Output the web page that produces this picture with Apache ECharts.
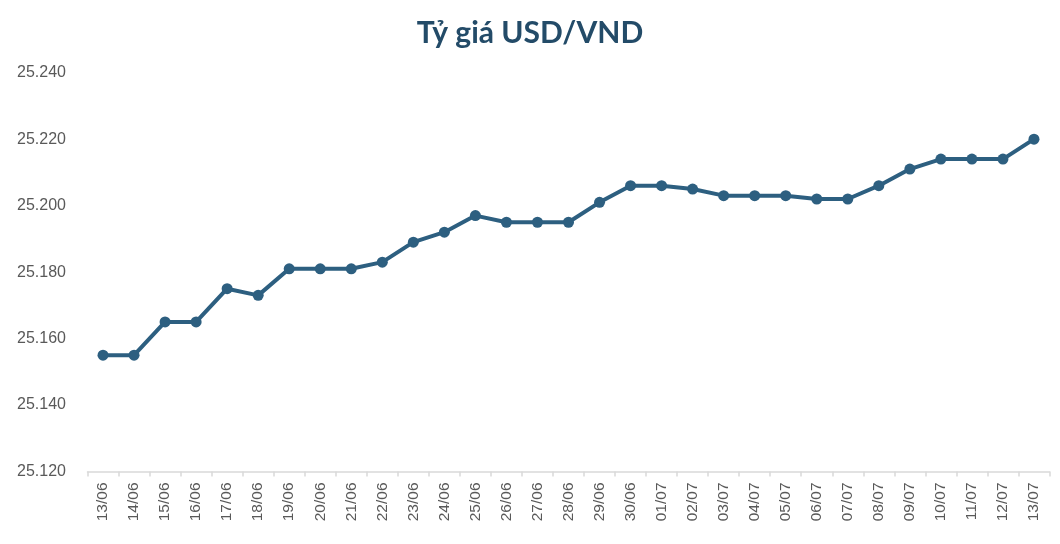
<!DOCTYPE html>
<html>
<head>
<meta charset="utf-8">
<script src="https://cdn.jsdelivr.net/npm/echarts@6/dist/echarts.min.js"></script>
<style>
  html, body { margin: 0; padding: 0; background: #fff; }
  #chart { width: 1060px; height: 544px; }
</style>
</head>
<body>
<div id="chart"></div>
<script>
// ngày giao dịch
var days = ['13/06', '14/06', '15/06', '16/06', '17/06', '18/06', '19/06', '20/06',
  '21/06', '22/06', '23/06', '24/06', '25/06', '26/06', '27/06', '28/06', '29/06',
  '30/06', '01/07', '02/07', '03/07', '04/07', '05/07', '06/07', '07/07', '08/07',
  '09/07', '10/07', '11/07', '12/07', '13/07'];

// tỷ giá USD/VND
var rates = [25155, 25155, 25165, 25165, 25175, 25173, 25181, 25181,
  25181, 25183, 25189, 25192, 25197, 25195, 25195, 25195, 25201,
  25206, 25206, 25205, 25203, 25203, 25203, 25202, 25202, 25206,
  25211, 25214, 25214, 25214, 25220];

var yTicks = [25120, 25140, 25160, 25180, 25200, 25220, 25240];

function fmt(v) {
  // 25120 -> "25.120"
  var s = String(Math.round(v));
  return s.slice(0, s.length - 3) + '.' + s.slice(s.length - 3);
}

var option = {
  backgroundColor: '#fff',
  title: {
    text: 'Tỷ giá USD/VND',
    left: 'center',
    top: 13,
    textStyle: {
      fontFamily: 'Lato',
      fontWeight: 'bold',
      fontSize: 30,
      color: '#234b68'
    }
  },
  grid: {
    left: 87.5,
    right: 10.5,
    top: 72.7,
    bottom: 72.5,
    containLabel: false
  },
  xAxis: {
    type: 'category',
    data: days,
    boundaryGap: true,
    axisLine: { lineStyle: { color: '#d9d9d9', width: 1.5 } },
    axisTick: { show: true, length: 5, alignWithLabel: false, lineStyle: { color: '#d9d9d9', width: 1.5 } },
    axisLabel: {
      rotate: 90,
      interval: 0,
      margin: 11,
      fontFamily: 'Liberation Sans',
      fontSize: 15.5,
      color: '#595959'
    }
  },
  yAxis: {
    type: 'value',
    min: yTicks[0],
    max: yTicks[yTicks.length - 1],
    interval: 20,
    splitLine: { show: false },
    axisLine: { show: false },
    axisTick: { show: false },
    axisLabel: {
      align: 'left',
      margin: 70.5,
      fontFamily: 'Liberation Sans',
      fontSize: 16,
      color: '#595959',
      formatter: fmt
    }
  },
  series: [{
    name: 'USD/VND',
    type: 'line',
    data: rates,
    symbol: 'circle',
    symbolSize: 11,
    lineStyle: { color: '#2d5f80', width: 4 },
    itemStyle: { color: '#2d5f80' },
    animation: false
  }]
};

var myChart = echarts.init(document.getElementById('chart'));
myChart.setOption(option);
</script>
</body>
</html>
